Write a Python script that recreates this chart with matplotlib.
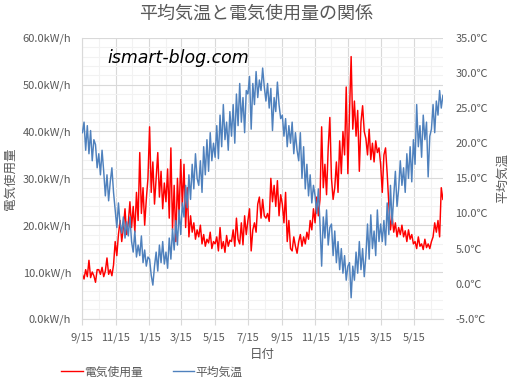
import matplotlib
matplotlib.use("Agg")
import matplotlib.pyplot as plt
import matplotlib.dates as mdates
from matplotlib.ticker import FuncFormatter, MultipleLocator
from matplotlib.lines import Line2D
import pandas as pd

plt.rcParams['font.family'] = ['Noto Sans CJK JP', 'DejaVu Sans']

# one value every 3 days, starting 2017-09-15 (one line per month, 15th to 15th)
START = "2017-09-15"
STEP = "3D"

power = [  # 電気使用量 (kW/h)
    9.5, 8.5, 10.5, 9.0, 12.5, 8.8, 10.0, 9.2, 7.8, 10.5,
    10.5, 9.5, 11.0, 9.0, 10.2, 13.0, 9.5, 10.5, 9.2, 11.5,
    16.5, 13.5, 18.0, 21.0, 16.5, 19.5, 23.5, 18.0, 20.5, 25.0,
    19.5, 24.0, 18.5, 27.0, 21.0, 35.5, 22.5, 28.0, 20.0, 25.5, 30.0,
    41.0, 27.0, 33.5, 24.5, 30.0, 35.5, 26.0, 31.5, 23.5, 29.0,
    25.0, 32.0, 21.5, 36.5, 19.0, 28.5, 16.5, 30.0, 22.0, 34.0,
    24.0, 33.0, 19.5, 28.0, 17.5, 22.0, 18.5, 20.5, 17.0, 19.0,
    17.5, 20.0, 16.0, 18.0, 15.5, 17.0, 16.2, 18.5, 15.0, 16.5,
    16.0, 17.5, 14.5, 19.5, 15.0, 16.5, 14.2, 17.8, 15.5, 16.8,
    16.5, 19.0, 15.5, 21.5, 17.0, 16.0, 20.5, 15.8, 22.0, 18.0,
    21.0, 23.5, 14.5, 19.0, 20.5, 18.5, 24.5, 26.0, 21.5, 25.5, 22.0,
    21.5, 22.5, 20.8, 30.0, 25.0, 28.5, 24.0, 29.5, 22.0, 26.5,
    24.5, 20.5, 27.0, 16.5, 21.0, 15.0, 14.5, 17.5, 15.5, 14.0,
    16.5, 18.0, 15.5, 17.5, 16.0, 18.5, 17.0, 21.0, 19.0, 23.5,
    20.5, 26.0, 22.0, 25.5, 41.0, 28.0, 33.0, 26.5, 36.5, 43.0,
    30.0, 25.5, 28.0, 33.5, 27.0, 38.0, 31.0, 40.0, 35.0, 49.5, 31.0,
    44.0, 56.0, 40.5, 46.5, 39.0, 44.5, 31.5, 42.0, 45.5, 40.0,
    38.5, 35.0, 40.5, 34.0, 37.5, 33.5, 38.0, 35.5, 36.5, 33.0,
    27.0, 35.0, 36.5, 31.0, 24.5, 19.0, 22.0, 18.5, 20.5, 17.5,
    19.5, 18.0, 20.0, 17.5, 18.8, 16.5, 19.0, 17.0, 18.0, 16.0,
    16.5, 15.0, 17.5, 15.5, 16.0, 14.8, 17.0, 15.2, 16.0, 15.0,
    16.5, 17.5, 20.5, 18.5, 21.0, 17.5, 28.0, 25.5,
]

temp = [  # 平均気温 (℃)
    21.5, 23.0, 19.0, 22.5, 18.5, 21.8, 17.5, 20.5, 19.8, 16.5,
    18.5, 15.5, 19.0, 16.0, 12.5, 15.5, 11.8, 14.5, 16.5, 13.0,
    10.5, 8.0, 11.5, 8.5, 7.2, 9.5, 6.5, 8.8, 6.8, 9.5,
    6.0, 4.5, 7.5, 3.8, 5.5, 4.0, 6.8, 3.0, 4.8, 2.5, 3.8,
    3.5, 1.2, -0.2, 2.5, 4.5, 1.8, 5.5, 3.0, 6.0, 2.8,
    4.5, 2.2, 6.5, 3.5, 7.8, 4.8, 9.0, 5.5, 10.5, 7.0,
    11.5, 9.5, 14.0, 10.8, 15.5, 12.0, 17.0, 13.5, 18.5, 15.0,
    14.0, 17.5, 13.0, 19.5, 15.5, 20.5, 16.0, 21.5, 17.5, 20.0,
    18.0, 22.5, 17.8, 24.0, 19.5, 25.5, 20.5, 23.0, 19.0, 24.5,
    21.0, 25.5, 20.0, 27.0, 22.5, 28.5, 23.0, 26.5, 21.5, 27.5,
    27.0, 29.5, 22.0, 28.5, 25.5, 30.2, 26.5, 29.0, 27.5, 30.7, 28.0,
    26.0, 28.5, 25.0, 27.8, 21.8, 26.5, 24.5, 28.7, 25.5, 23.5,
    24.0, 21.0, 23.5, 19.5, 22.5, 20.0, 23.0, 18.5, 21.5, 19.0,
    17.5, 21.5, 15.0, 19.5, 13.5, 17.0, 12.5, 15.5, 11.5, 14.0,
    12.5, 10.0, 13.5, 8.5, 2.5, 9.5, 6.5, 10.5, 5.5, 8.0,
    8.5, 4.0, 7.5, 3.0, 6.0, 2.0, 5.0, 1.5, 4.0, 0.5, 2.5,
    3.0, -2.0, 2.5, 0.5, 4.5, 1.5, 6.0, 2.0, 5.0, 1.0,
    4.0, 8.5, 3.5, 9.8, 5.0, 7.5, 4.0, 10.5, 6.0, 8.5,
    6.0, 9.0, 5.5, 11.5, 7.0, 14.0, 8.5, 12.5, 16.0, 11.0,
    13.5, 17.5, 14.0, 16.5, 13.0, 18.5, 15.0, 19.5, 14.5, 20.5,
    17.0, 25.5, 19.5, 22.5, 18.0, 24.0, 20.5, 23.0, 15.2, 21.0,
    22.0, 25.5, 21.5, 26.0, 24.0, 27.5, 25.0, 26.8,
]

dates = pd.date_range(START, periods=len(power), freq=STEP)

GRAY_TXT = "#595959"
RED = "#FF0000"
BLUE = "#4F81BD"

fig = plt.figure(figsize=(5.15, 3.86), dpi=100)
ax = fig.add_axes([0.160, 0.174, 0.700, 0.728])
ax2 = ax.twinx()

ax.plot(dates, power, color=RED, linewidth=1.05)
ax2.plot(dates, temp, color=BLUE, linewidth=1.05)

# left axis: kW/h
ax.set_ylim(0, 60)
ax.yaxis.set_major_locator(MultipleLocator(10))
ax.yaxis.set_minor_locator(MultipleLocator(2))
ax.yaxis.set_major_formatter(FuncFormatter(lambda v, p: f"{v:.1f}kW/h"))

# right axis: ℃
ax2.set_ylim(-5, 35)
ax2.yaxis.set_major_locator(MultipleLocator(5))
ax2.yaxis.set_major_formatter(FuncFormatter(lambda v, p: f"{v:.1f}℃"))

# date axis
ax.set_xlim(dates[0], dates[-1])
ax.xaxis.set_major_locator(mdates.MonthLocator(bymonth=[1, 3, 5, 7, 9, 11], bymonthday=15))
ax.xaxis.set_minor_locator(mdates.MonthLocator(bymonth=[2, 4, 6, 8, 10, 12], bymonthday=15))
ax.xaxis.set_major_formatter(FuncFormatter(lambda v, p: f"{mdates.num2date(v).month}/{mdates.num2date(v).day}"))

ax.grid(True, which="major", color="#D9D9D9", linewidth=0.8)
ax.grid(True, which="minor", color="#F2F2F2", linewidth=0.8)
ax.set_axisbelow(True)

for a in (ax, ax2):
    for s in ("top", "right", "left", "bottom"):
        a.spines[s].set_visible(False)
ax.spines["bottom"].set_visible(True)
ax.spines["bottom"].set_color("#D9D9D9")
ax.spines["left"].set_visible(True)
ax.spines["left"].set_color("#D9D9D9")

ax.tick_params(axis="y", which="both", length=0, labelsize=8, labelcolor=GRAY_TXT, pad=8)
ax.tick_params(axis="x", which="major", length=4, color="#D9D9D9", labelsize=8,
               labelcolor=GRAY_TXT, pad=6)
ax.tick_params(axis="x", which="minor", length=0)
ax2.tick_params(axis="y", length=0, labelsize=8, labelcolor=GRAY_TXT, pad=9)

ax.set_ylabel("電気使用量", fontsize=9, color=GRAY_TXT, labelpad=4)
ax2.set_ylabel("平均気温", fontsize=9, color=GRAY_TXT, rotation=90, labelpad=6)
ax.set_xlabel("日付", fontsize=9, color=GRAY_TXT, labelpad=3.5)

fig.suptitle("平均気温と電気使用量の関係", fontsize=13, color=GRAY_TXT, y=0.988, x=0.497)

fig.text(0.208, 0.850, "ismart-blog.com", fontsize=12.5, style="italic",
         family="DejaVu Sans", color="black", va="center", ha="left")

handles = [Line2D([], [], color=RED, linewidth=1.0), Line2D([], [], color=BLUE, linewidth=1.0)]
fig.legend(handles, ["電気使用量", "平均気温"], loc="center", bbox_to_anchor=(0.295, 0.036),
           ncol=2, frameon=False, fontsize=8.5, handlelength=1.8, handletextpad=0.1,
           columnspacing=2.6, labelcolor=GRAY_TXT)

fig.savefig("out.png", dpi=100)
